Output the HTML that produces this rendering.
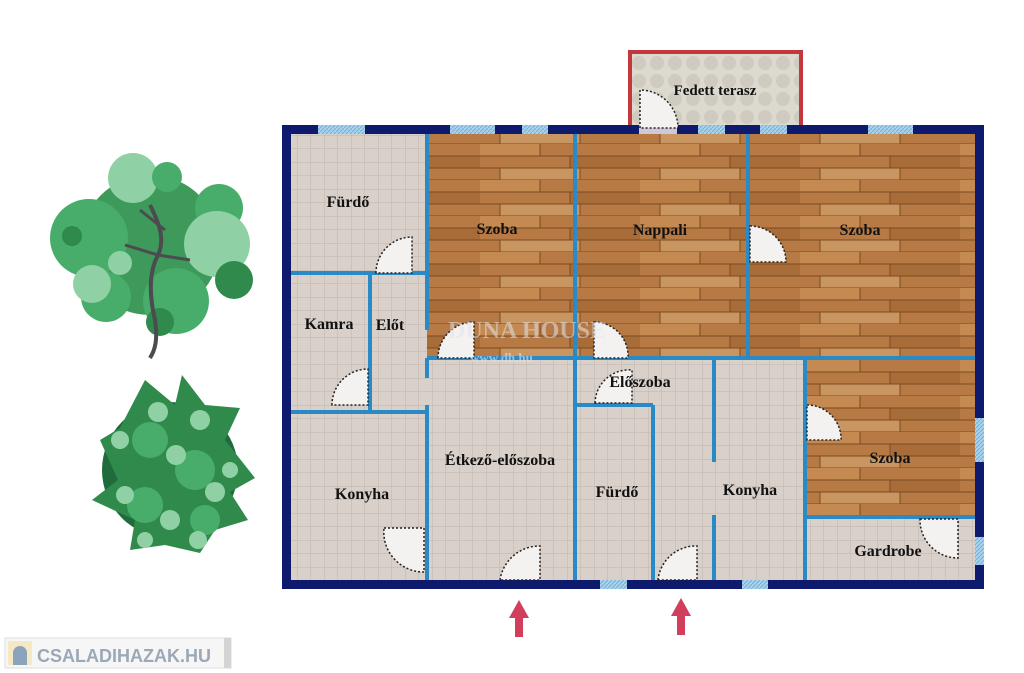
<!DOCTYPE html>
<html><head><meta charset="utf-8"><style>
html,body{margin:0;padding:0;background:#fff;width:1024px;height:673px;overflow:hidden}
text{font-family:"Liberation Serif",serif;font-weight:bold;fill:#111}
</style></head><body>
<svg width="1024" height="673" viewBox="0 0 1024 673" xmlns="http://www.w3.org/2000/svg">
<defs>
<pattern id="tile" width="13.5" height="13.5" patternUnits="userSpaceOnUse">
<rect width="13.5" height="13.5" fill="#d9d0c9"/>
<path d="M0 0H13.5M0 0V13.5" stroke="#bcb3ad" stroke-width="1"/>
</pattern>
<pattern id="wood" width="160" height="36" patternUnits="userSpaceOnUse">
<rect width="160" height="36" fill="#b87a44"/>
<rect y="0" width="60" height="12" fill="#c48a52"/>
<rect x="90" y="12" width="70" height="12" fill="#a86c38"/>
<rect x="20" y="24" width="80" height="12" fill="#c99560"/>
<path d="M0 12H160M0 24H160M0 36H160M60 0V12M90 12V24M20 24V36M100 24V36" stroke="#7a4a22" stroke-width="1"/>
</pattern>
<pattern id="terr" width="18" height="18" patternUnits="userSpaceOnUse">
<rect width="18" height="18" fill="#dcd9cf"/>
<circle cx="9" cy="9" r="7" fill="#cfcbc0"/>
</pattern>
<pattern id="win" width="4" height="4" patternUnits="userSpaceOnUse">
<rect width="4" height="4" fill="#a9d3ec"/><path d="M0 4L4 0" stroke="#6fb0d8" stroke-width="1"/>
</pattern>
</defs>

<rect x="630" y="52" width="171" height="76" fill="url(#terr)" stroke="#c4383c" stroke-width="4"/>
<text x="715" y="95" font-size="15" text-anchor="middle">Fedett terasz</text>

<rect x="291" y="134" width="684" height="446" fill="url(#tile)"/>
<rect x="427" y="134" width="548" height="224" fill="url(#wood)"/>
<rect x="805" y="358" width="170" height="159" fill="url(#wood)"/>

<rect x="286.5" y="129.5" width="693" height="455" fill="none" stroke="#0d1a6e" stroke-width="9"/>
<g fill="url(#win)">
<rect x="318" y="125" width="47" height="9"/><rect x="450" y="125" width="45" height="9"/>
<rect x="522" y="125" width="26" height="9"/><rect x="698" y="125" width="27" height="9"/>
<rect x="760" y="125" width="27" height="9"/><rect x="868" y="125" width="45" height="9"/>
<rect x="600" y="580" width="27" height="9"/><rect x="742" y="580" width="26" height="9"/>
<rect x="975" y="418" width="9" height="44"/><rect x="975" y="537" width="9" height="28"/>
</g>
<rect x="639" y="125" width="38" height="9" fill="#cfc8d8"/>

<g stroke="#2a8ac6" stroke-width="4" fill="none">
<path d="M291 273H427M291 412H427M370 273V412"/>
<path d="M427 134V330M427 358V378M427 405V580"/>
<path d="M427 358H975"/>
<path d="M575 134V580M748 134V358"/>
<path d="M575 405H653M653 405V580"/>
<path d="M714 358V462M714 515V580"/>
<path d="M805 358V580M805 517H975"/>
</g>

<g fill="#f4f2f0" stroke="#222" stroke-width="1.5" stroke-dasharray="2 2">
<path d="M640 128V90A38 38 0 0 1 678 128Z"/>
<path d="M376 273A36 36 0 0 1 412 237V273Z"/>
<path d="M750 226A36 36 0 0 1 786 262H750Z"/>
<path d="M438 358A36 36 0 0 1 474 322V358Z" />
<path d="M594 322A34 34 0 0 1 628 358H594Z"/>
<path d="M332 405A36 36 0 0 1 368 369V405Z"/>
<path d="M595 403A34 34 0 0 1 632 370V403Z"/>
<path d="M807 405A34 34 0 0 1 841 440H807Z"/>
<path d="M384 528H424V572A40 40 0 0 1 384 528Z"/>
<path d="M500 580A40 40 0 0 1 540 546V580Z"/>
<path d="M658 580A38 38 0 0 1 697 546V580Z"/>
<path d="M920 519H958V558A38 38 0 0 1 920 519Z"/>
</g>

<text x="448" y="338" font-size="24" style="fill:#dfe4ee" opacity="0.55">DUNA HOUSE</text>
<text x="470" y="362" font-size="13" style="fill:#dfe4ee" opacity="0.6">www.dh.hu</text>

<g font-size="16" text-anchor="middle">
<text x="348" y="207">Fürdő</text>
<text x="497" y="234">Szoba</text>
<text x="660" y="235">Nappali</text>
<text x="860" y="235">Szoba</text>
<text x="329" y="329">Kamra</text>
<text x="390" y="330">Előt</text>
<text x="640" y="387">Előszoba</text>
<text x="500" y="465">Étkező-előszoba</text>
<text x="362" y="499">Konyha</text>
<text x="617" y="497">Fürdő</text>
<text x="750" y="495">Konyha</text>
<text x="890" y="463">Szoba</text>
<text x="888" y="556">Gardrobe</text>
</g>

<g fill="#d23f5c">
<path d="M519 600L509 618H515V637H523V618H529Z"/>
<path d="M681 598L671 616H677V635H685V616H691Z"/>
</g>

<g>
<circle cx="150" cy="245" r="70" fill="#3e9a5a"/>
<circle cx="89" cy="238" r="39" fill="#48ad6a"/>
<circle cx="133" cy="178" r="25" fill="#8fd1a4"/>
<circle cx="167" cy="177" r="15" fill="#48ad6a"/>
<circle cx="219" cy="208" r="24" fill="#48ad6a"/>
<circle cx="217" cy="244" r="33" fill="#8fd1a4"/>
<circle cx="234" cy="280" r="19" fill="#2f8a4c"/>
<circle cx="176" cy="301" r="33" fill="#48ad6a"/>
<circle cx="106" cy="297" r="25" fill="#48ad6a"/>
<circle cx="92" cy="284" r="19" fill="#8fd1a4"/>
<circle cx="120" cy="263" r="12" fill="#8fd1a4"/>
<circle cx="72" cy="236" r="10" fill="#2f8a4c"/>
<circle cx="160" cy="322" r="14" fill="#2f8a4c"/>
<path d="M150 205C160 225 165 240 158 255C150 270 148 290 155 320C158 340 155 350 150 358" stroke="#4b4b50" stroke-width="4" fill="none"/>
<path d="M158 255L190 260M158 255L125 245M140 210L165 230" stroke="#4b4b50" stroke-width="3" fill="none"/>
</g>
<g>
<circle cx="170" cy="470" r="68" fill="#1f6b3c"/>
<path d="M145 380L175 405L182 375L205 405L240 408L225 440L255 478L230 492L248 520L215 530L200 553L165 545L130 550L135 520L92 500L118 480L100 440L120 428Z" fill="#2f8a4c"/>
<g fill="#48ad6a"><circle cx="150" cy="440" r="18"/><circle cx="195" cy="470" r="20"/><circle cx="145" cy="505" r="18"/><circle cx="205" cy="520" r="15"/></g>
<g fill="#8fd1a4"><circle cx="158" cy="412" r="10"/><circle cx="200" cy="420" r="10"/><circle cx="120" cy="440" r="9"/><circle cx="176" cy="455" r="10"/><circle cx="215" cy="492" r="10"/><circle cx="125" cy="495" r="9"/><circle cx="170" cy="520" r="10"/><circle cx="198" cy="540" r="9"/><circle cx="145" cy="540" r="8"/><circle cx="230" cy="470" r="8"/></g>
</g>

<rect x="5" y="638" width="226" height="30" fill="#f6f6f6" stroke="#ddd"/>
<rect x="224" y="638" width="7" height="30" fill="#d4d4d4"/>
<rect x="8" y="641" width="24" height="24" fill="#f4e9c4"/>
<path d="M13 665V653A7 7 0 0 1 27 653V665Z" fill="#8aa4bc"/>
<text x="37" y="662" font-size="18" style="font-family:'Liberation Sans',sans-serif;fill:#9aa8b8">CSALADIHAZAK.HU</text>
</svg>
</body></html>
